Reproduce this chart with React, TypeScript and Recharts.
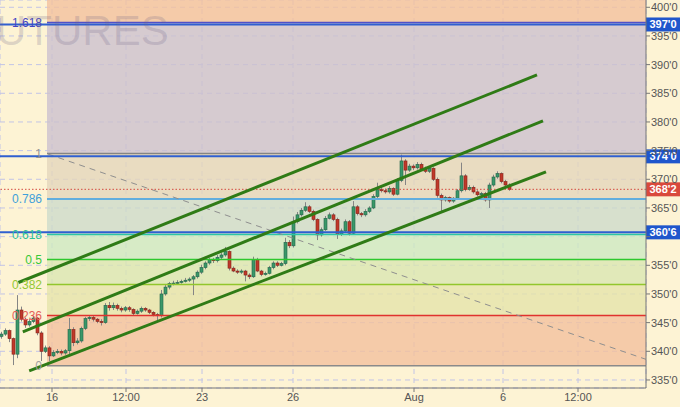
import React from 'react';
import {
  ComposedChart,
  Bar,
  XAxis,
  YAxis,
  CartesianGrid,
  ReferenceArea,
  ReferenceLine,
} from 'recharts';

// 30-minute candles, one slot per bar
const opens = [
  342.6, 343.0, 343.6, 342.2, 339.5, 347.2, 345.6, 344.6, 345.2, 345.8,
  343.2, 340.0, 340.6, 339.2, 339.8, 340.0, 339.7, 340.1, 343.8, 341.5,
  341.8, 344.0, 345.7, 345.9, 345.6, 345.2, 345.0, 348.0, 347.6, 348.0,
  347.5, 347.2, 347.6, 347.3, 346.6, 347.0, 347.5, 347.2, 346.8, 346.4,
  346.2, 350.0, 351.2, 351.8, 351.9, 352.0, 352.2, 352.4, 352.6, 353.0,
  353.8, 354.6, 355.4, 356.0, 355.8, 356.4, 356.8, 357.4, 354.5, 354.0,
  353.8, 354.0, 353.3, 353.0, 356.0, 354.0, 353.4, 353.6, 354.6, 355.4,
  355.0, 355.3, 359.0, 358.4, 362.6, 363.8, 364.6, 365.2, 364.4, 363.0,
  360.3, 361.2, 363.2, 363.8, 363.0, 360.4, 361.0, 362.6, 360.6, 365.2,
  364.0, 363.8, 364.4, 365.0, 367.0, 368.2, 368.0, 367.8, 368.4, 367.4,
  369.8, 373.2, 371.6, 372.3, 372.0, 372.6, 371.8, 371.4, 371.9, 370.0,
  367.2, 366.4, 366.8, 366.2, 366.7, 368.0, 370.6, 368.2, 368.6, 367.8,
  367.3, 367.5, 366.4, 369.0, 370.4, 371.0, 369.6, 369.0,
];
const highs = [
  343.4, 344.0, 343.8, 342.4, 349.8, 347.8, 345.9, 345.6, 346.2, 346.0,
  343.5, 341.0, 340.9, 340.2, 340.4, 340.3, 340.4, 345.8, 344.2, 342.3,
  344.3, 346.0, 346.3, 346.2, 345.8, 345.6, 348.4, 348.6, 348.5, 348.3,
  347.8, 347.9, 347.9, 347.5, 347.3, 347.8, 347.7, 347.4, 347.0, 346.7,
  350.7, 351.6, 352.1, 352.3, 352.4, 352.5, 352.8, 352.9, 353.3, 354.1,
  355.1, 355.7, 356.3, 356.3, 356.8, 357.2, 358.2, 357.6, 354.8, 354.3,
  354.3, 354.2, 353.6, 356.5, 356.3, 354.2, 353.9, 354.9, 355.7, 355.7,
  355.6, 359.8, 359.4, 363.5, 364.3, 365.0, 366.0, 365.5, 364.7, 363.2,
  361.6, 363.6, 364.2, 364.1, 363.3, 361.4, 363.0, 362.9, 366.2, 365.5,
  364.3, 364.8, 365.3, 367.4, 369.4, 368.6, 368.4, 368.8, 368.6, 370.2,
  374.3, 373.5, 372.7, 372.6, 373.0, 372.9, 372.2, 372.3, 372.1, 370.3,
  367.5, 367.1, 367.0, 366.9, 368.3, 372.9, 370.9, 369.0, 368.9, 368.1,
  367.8, 367.8, 369.4, 370.8, 371.4, 371.2, 369.9, 369.3,
];
const lows = [
  342.2, 342.7, 341.6, 337.6, 338.8, 345.2, 344.1, 344.3, 344.9, 342.8,
  338.3, 339.7, 338.3, 339.0, 339.5, 339.3, 339.4, 339.5, 340.9, 341.2,
  341.5, 343.7, 345.3, 345.2, 344.9, 344.5, 344.8, 347.1, 347.2, 347.1,
  346.8, 346.9, 346.9, 346.3, 346.4, 346.7, 346.9, 346.5, 346.1, 345.4,
  345.9, 349.7, 350.8, 351.5, 351.6, 351.8, 352.0, 352.1, 349.8, 352.7,
  353.5, 354.3, 355.1, 355.4, 355.5, 356.1, 356.5, 354.1, 353.8, 353.5,
  353.5, 352.2, 352.6, 352.8, 353.8, 353.1, 353.2, 353.4, 354.3, 354.7,
  354.8, 355.0, 358.0, 358.1, 362.3, 363.5, 364.3, 364.1, 362.7, 359.4,
  360.0, 361.0, 363.0, 362.7, 359.6, 360.1, 360.7, 360.2, 360.4, 363.7,
  363.4, 363.5, 364.1, 364.8, 366.7, 367.7, 367.5, 367.5, 367.1, 367.2,
  369.5, 369.0, 371.3, 371.6, 371.7, 371.5, 371.1, 371.1, 369.7, 366.8,
  364.4, 366.1, 365.9, 365.9, 366.4, 367.7, 367.9, 368.0, 367.5, 367.0,
  367.0, 366.1, 365.0, 368.7, 370.1, 369.3, 368.7, 368.0,
];
const closes = [
  343.0, 343.6, 342.2, 339.5, 347.2, 345.6, 344.6, 345.2, 345.8, 343.2,
  340.0, 340.6, 339.2, 339.8, 340.0, 339.7, 340.1, 343.8, 341.5, 341.8,
  344.0, 345.7, 345.9, 345.6, 345.2, 345.0, 348.0, 347.6, 348.0, 347.5,
  347.2, 347.6, 347.3, 346.6, 347.0, 347.5, 347.2, 346.8, 346.4, 346.2,
  350.0, 351.2, 351.8, 351.9, 352.0, 352.2, 352.4, 352.6, 353.0, 353.8,
  354.6, 355.4, 356.0, 355.8, 356.4, 356.8, 357.4, 354.5, 354.0, 353.8,
  354.0, 353.3, 353.0, 356.0, 354.0, 353.4, 353.6, 354.6, 355.4, 355.0,
  355.3, 359.0, 358.4, 362.6, 363.8, 364.6, 365.2, 364.4, 363.0, 360.3,
  361.2, 363.2, 363.8, 363.0, 360.4, 361.0, 362.6, 360.6, 365.2, 364.0,
  363.8, 364.4, 365.0, 367.0, 368.2, 368.0, 367.8, 368.4, 367.4, 369.8,
  373.2, 371.6, 372.3, 372.0, 372.6, 371.8, 371.4, 371.9, 370.0, 367.2,
  366.4, 366.8, 366.2, 366.7, 368.0, 370.6, 368.2, 368.6, 367.8, 367.3,
  367.5, 366.4, 369.0, 370.4, 371.0, 369.6, 369.0, 368.25,
];

const timeTicks = [12.5, 31, 50, 72.75, 103, 125.25, 144];
const timeLabels = ['16', '12:00', '23', '26', 'Aug', '6', '12:00'];
const priceTicks = [335, 340, 345, 350, 355, 360, 365, 370, 375, 380, 385, 390, 395, 400];

// fibonacci retracement drawn from slot 11.25
const fibStart = 11.25;
const fibLow = 337.5;
const fibHigh = 374.5;
const fibRatios = [0, 0.236, 0.382, 0.5, 0.618, 0.786, 1, 1.618];
const fibNames = ['0', '0.236', '0.382', '0.5', '0.618', '0.786', '1', '1.618'];

const levelPrices = [397, 374, 360.75];
const lastPrice = 368.25;

// trend channel and dashed guide, [slot, price]
const channelUpper = [[4.1, 352.0], [133.75, 388.2]];
const channelMiddle = [[5.2, 343.4], [135.25, 380.2]];
const channelLower = [[6.8, 336.6], [136, 371.3]];
const guideLine = [[11.5, 374.4], [161, 338.6]];

const X_MAX = 161;
const Y_MIN = 333.6;
const Y_MAX = 401.27;

const fibLineColors = ['#8a8a8a', '#e0322e', '#92c62c', '#2ec82e', '#2cc6a6', '#62aede', '#858585', '#5050c8'];
const fibTextColors = ['#a0a0a0', '#e45e58', '#94c832', '#38c838', '#2ec298', '#40a0da', '#959595', '#4444c4'];
// zone k lies between level k and level k+1; the last one runs to the top
const zoneColors = ['#f2c09d', '#e5e3aa', '#d9e6b1', '#cde8c2', '#cddbca', '#e4d6bb', '#ccc1ce', '#f3c09e'];

const fmtPrice = (v: number) => {
  const whole = Math.floor(v);
  return `${whole}'${Math.round((v - whole) * 8)}`;
};

function Candle(props: any) {
  const { x, y, width, height, payload } = props;
  if (x == null || y == null || !payload) return null;
  const top = Math.min(y, y + height);
  const span = Math.abs(height);
  const { o, h, l, c } = payload;
  const ppu = h - l > 0 ? span / (h - l) : 0;
  const up = c >= o;
  const bodyTop = top + (h - Math.max(o, c)) * ppu;
  const bodyH = Math.max(1, Math.abs(o - c) * ppu);
  const cx = x + width / 2;
  const fill = up ? '#3a9868' : '#c0382a';
  const edge = up ? '#22644a' : '#84231a';
  return (
    <g>
      <line x1={cx} x2={cx} y1={top} y2={top + span} stroke="#858585" strokeWidth={1} />
      <rect x={x} y={bodyTop} width={width} height={bodyH} fill={fill} stroke={edge} strokeWidth={0.6} />
    </g>
  );
}

function AxisTag(props: any) {
  const { viewBox, text, color } = props;
  if (!viewBox) return null;
  const x = viewBox.x + viewBox.width;
  const y = viewBox.y;
  return (
    <g>
      <rect x={x} y={y - 7} width={34} height={14} fill={color} />
      <text
        x={x + 17}
        y={y + 4}
        textAnchor="middle"
        fill="#ffffff"
        fontSize={11}
        fontWeight="bold"
        fontFamily="Liberation Sans, Arial, sans-serif"
      >
        {text}
      </text>
    </g>
  );
}

export default function App() {
  const data = closes.map((c, i) => ({ i, o: opens[i], h: highs[i], l: lows[i], c }));
  const fibLevels = fibRatios.map((r) => fibLow + r * (fibHigh - fibLow));
  const zoneEdges = [...fibLevels, Y_MAX];
  const seg = (pts: number[][]) => pts.map(([x, y]) => ({ x, y }));
  // a price tick whose label sits under a level tag is left blank
  const tagged = (v: number) => levelPrices.some((lv) => Math.abs(lv - v) < 1);

  return (
    <div
      style={{
        position: 'absolute',
        left: 0,
        top: 0,
        width: 680,
        height: 407,
        background: '#fdf3d4',
        fontFamily: 'Liberation Sans, Arial, sans-serif',
      }}
    >
      <ComposedChart width={680} height={407} data={data} margin={{ top: 0, right: 0, bottom: 0, left: 0 }}>
        <CartesianGrid stroke="#c2c4e6" strokeDasharray="5 4" />
        {zoneColors.map((fill, k) => (
          <ReferenceArea
            key={`zone-${k}`}
            x1={fibStart}
            x2={X_MAX}
            y1={zoneEdges[k]}
            y2={zoneEdges[k + 1]}
            fill={fill}
            fillOpacity={0.8}
            stroke="none"
            ifOverflow="hidden"
          />
        ))}
        <XAxis
          type="number"
          dataKey="i"
          domain={[-0.5, X_MAX]}
          allowDataOverflow
          ticks={timeTicks}
          interval={0}
          tickFormatter={(v: number) => timeLabels[timeTicks.indexOf(v)]}
          height={19}
          stroke="#777777"
          tick={{ fill: '#555555', fontSize: 11 }}
          tickSize={4}
          tickMargin={1}
        />
        <YAxis
          orientation="right"
          type="number"
          domain={[Y_MIN, Y_MAX]}
          allowDataOverflow
          ticks={priceTicks}
          interval={0}
          tickFormatter={(v: number) => (tagged(v) ? '' : `${v}'0`)}
          width={34}
          stroke="#777777"
          tick={{ fill: '#555555', fontSize: 11 }}
          tickSize={4}
          tickMargin={1}
        />
        {fibLevels.map((lv, k) => (
          <ReferenceLine
            key={`fib-${k}`}
            segment={[{ x: fibStart, y: lv }, { x: X_MAX, y: lv }]}
            stroke={fibLineColors[k]}
            strokeWidth={k === 5 ? 2 : 1.5}
            label={{ value: fibNames[k], position: 'left', fill: fibTextColors[k], fontSize: 12 }}
          />
        ))}
        <ReferenceLine
          segment={seg(guideLine)}
          stroke="#8f8f8f"
          strokeDasharray="6 5"
          strokeWidth={1}
        />
        <ReferenceLine
          y={lastPrice}
          stroke="#d44a40"
          strokeDasharray="1.5 2"
          strokeWidth={1}
          label={(p: any) => <AxisTag {...p} text={fmtPrice(lastPrice)} color="#d9493c" />}
        />
        {levelPrices.map((lv) => (
          <ReferenceLine
            key={`lvl-${lv}`}
            y={lv}
            stroke="#2f5fd0"
            strokeWidth={2}
            label={(p: any) => <AxisTag {...p} text={fmtPrice(lv)} color="#1f56cc" />}
          />
        ))}
        <Bar
          dataKey={(d: any) => [d.l, d.h]}
          barSize={3}
          shape={<Candle />}
          isAnimationActive={false}
        />
        {[channelUpper, channelMiddle, channelLower].map((pts, k) => (
          <ReferenceLine key={`ch-${k}`} segment={seg(pts)} stroke="#2f7b16" strokeWidth={3} />
        ))}
      </ComposedChart>
      <svg
        width={680}
        height={407}
        style={{ position: 'absolute', left: 0, top: 0, pointerEvents: 'none' }}
      >
        <text x={-4} y={45} fontSize={42} fill="rgba(110,100,135,0.22)" fontFamily="Liberation Sans, Arial, sans-serif">
          UTURES
        </text>
      </svg>
    </div>
  );
}
